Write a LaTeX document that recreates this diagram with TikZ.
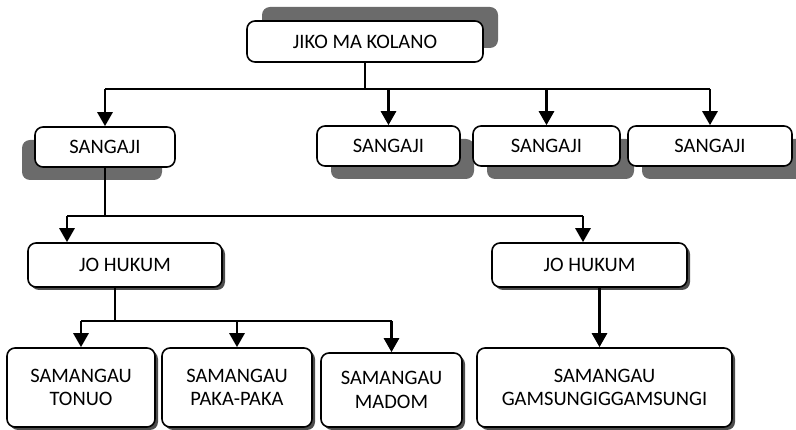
\documentclass[tikz,border=0pt]{standalone}
\usepackage{fontspec}
\setmainfont{Carlito}
\usetikzlibrary{positioning,shadows,arrows.meta}

\begin{document}
\begin{tikzpicture}[x=1pt,y=-1pt]
            \tikzset{
                box/.style={draw,line width=1.6pt,rounded corners=8pt,fill=white,align=center,
                    inner sep=0pt,font=\fontsize{20.5}{23.5}\selectfont},
                bigshadow/.style={drop shadow={shadow xshift=#1,fill=black!58,opacity=1}},
                smallshadow/.style={drop shadow={shadow xshift=3pt,shadow yshift=-3pt,fill=black!70,opacity=1}},
                conn/.style={line width=1.5pt},
                arr/.style={line width=2.8pt,-{Triangle[length=14pt,width=15pt]}},}
            \useasboundingbox (0,0) rectangle (796,430);
            % level 1
            \node[box,minimum width=236pt,minimum height=41pt,
                drop shadow={shadow xshift=15pt,shadow yshift=14pt,fill=black!58,opacity=1}]
                (top) at (365,41.5) {JIKO MA KOLANO};
            % level 2
            \node[box,minimum width=140pt,minimum height=40pt,
                drop shadow={shadow xshift=-13pt,shadow yshift=-13pt,fill=black!58,opacity=1}]
                (s1) at (105,147) {SANGAJI};
            \node[box,minimum width=143pt,minimum height=40pt,bigshadow={14pt,shadow yshift=-13pt}] (s2) at (388.5,146) {SANGAJI};
            \node[box,minimum width=147pt,minimum height=40pt,bigshadow={14pt,shadow yshift=-13pt}] (s3) at (546.5,146) {SANGAJI};
            \node[box,minimum width=164pt,minimum height=40pt,bigshadow={14pt,shadow yshift=-13pt}] (s4) at (710,146) {SANGAJI};
            % level 3
            \node[box,smallshadow,minimum width=194pt,minimum height=44pt] (jh1) at (125,265) {JO HUKUM};
            \node[box,smallshadow,minimum width=195pt,minimum height=44pt] (jh2) at (589.5,265) {JO HUKUM};
            % level 4
            \node[box,smallshadow,minimum width=148pt,minimum height=79pt] (b1) at (81,387.5) {SAMANGAU\\TONUO};
            \node[box,smallshadow,minimum width=150pt,minimum height=79pt] (b2) at (237,387.5) {SAMANGAU\\PAKA-PAKA};
            \node[box,smallshadow,minimum width=141pt,minimum height=74pt] (b3) at (391.5,390) {SAMANGAU\\MADOM};
            \node[box,smallshadow,minimum width=255pt,minimum height=79pt] (b4) at (604.5,387.5) {SAMANGAU\\GAMSUNGIGGAMSUNGI};

            \coordinate (bus1) at (365,89);
            \draw[conn] (top.south) -- (bus1);
            \draw[conn] (bus1 -| s1) -- (bus1 -| s4);
            \foreach \n in {s1,s2,s3,s4}
                \draw[arr] (bus1 -| \n) -- (\n.north);

            \coordinate (j1) at (67,216);
            \coordinate (j2) at (583,216);
            \draw[conn] (s1.south) -- (s1.south |- j1);
            \draw[conn] (j1) -- (j2);
            \draw[arr] (j1) -- (j1 |- jh1.north);
            \draw[arr] (j2) -- (j2 |- jh2.north);

            \coordinate (bus3) at (115,321);
            \draw[conn] (bus3 |- jh1.south) -- (bus3);
            \draw[conn] (bus3 -| b1) -- (bus3 -| b3);
            \foreach \n in {b1,b2,b3}
                \draw[arr] (bus3 -| \n) -- (\n.north);

            \draw[arr] ([xshift=-5pt]b4.north |- jh2.south) -- ([xshift=-5pt]b4.north);
        \end{tikzpicture}
\end{document}
